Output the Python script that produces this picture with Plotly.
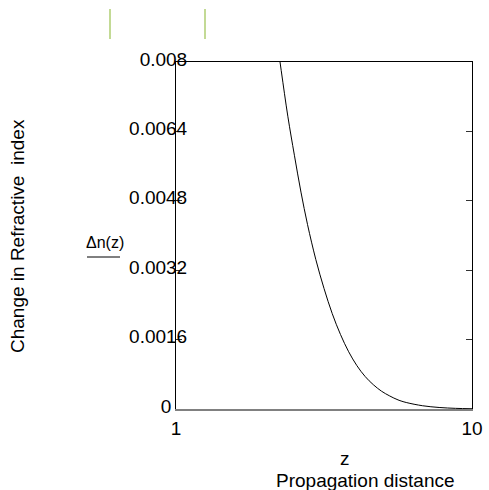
import plotly.graph_objects as go

# Propagation distance z and change in refractive index Δn(z)
z_vals = [4.0, 4.2, 4.4, 4.6, 4.8, 5.0, 5.25, 5.5, 5.75, 6.0, 6.25, 6.5,
          6.75, 7.0, 7.25, 7.5, 7.75, 8.0, 8.5, 9.0, 9.5, 10.0]
dn_vals = [0.0089, 0.0078, 0.00675, 0.00585, 0.0050, 0.00425, 0.00345,
           0.00278, 0.0022, 0.00172, 0.00132, 0.0010, 0.00075, 0.00056,
           0.00041, 0.00030, 0.00021, 0.00015, 0.000075, 0.000035,
           0.000015, 0.000006]

y_tick_vals = [0, 0.0016, 0.0032, 0.0048, 0.0064, 0.008]
y_tick_text = ["0\u00a0\u00a0\u00a0", "0.0016", "0.0032", "0.0048", "0.0064", "0.008"]
x_tick_vals = [1, 10]
x_tick_text = ["1", "10"]

FONT = "Arial, Liberation Sans, sans-serif"
FS = 19

# plot-area geometry in pixels
W, H = 489, 490
L, R, T, B = 176, 472, 62, 409


def px(xp):
    return (xp - L) / (R - L)


def py(yp):
    return (B - yp) / (B - T)


fig = go.Figure()
fig.add_trace(go.Scatter(
    x=z_vals, y=dn_vals, mode="lines",
    line=dict(color="black", width=1, shape="spline"),
    showlegend=False, hoverinfo="skip",
))

fig.update_layout(
    width=W, height=H,
    margin=dict(l=L, r=W - R, t=T, b=H - B, autoexpand=False),
    paper_bgcolor="white", plot_bgcolor="white",
    font=dict(family=FONT, size=FS, color="black"),
    xaxis=dict(
        range=[1, 10], tickmode="array", tickvals=x_tick_vals, ticktext=x_tick_text,
        showgrid=False, zeroline=False, showline=True, linecolor="#808080",
        linewidth=2, mirror=False, ticks="", tickfont=dict(size=FS),
        ticklabelstandoff=1,
    ),
    xaxis2=dict(
        range=[1, 10], overlaying="x", side="top", showticklabels=False,
        showgrid=False, zeroline=False, showline=True, linecolor="black",
        linewidth=1, ticks="", matches="x",
    ),
    yaxis=dict(
        range=[0, 0.008], tickmode="array", tickvals=y_tick_vals, ticktext=y_tick_text,
        showgrid=False, zeroline=False, showline=True, linecolor="black",
        linewidth=1, mirror="ticks", ticks="inside", ticklen=6, tickcolor="#333333",
        tickfont=dict(size=FS), ticklabelstandoff=-16, ticklabelshift=-3,
    ),
    annotations=[
        dict(text="Change in Refractive \u00a0index", x=px(17), y=py(236), xref="paper", yref="paper",
             xanchor="center", yanchor="middle", textangle=-90, showarrow=False,
             font=dict(size=FS)),
        dict(text="Δn(z)", x=px(105), y=py(242), xref="paper", yref="paper",
             xanchor="center", yanchor="middle", showarrow=False, font=dict(size=16)),
        dict(text="z", x=px(345), y=py(458), xref="paper", yref="paper",
             xanchor="center", yanchor="middle", showarrow=False, font=dict(size=FS)),
        dict(text="Propagation distance", x=px(365), y=py(480), xref="paper", yref="paper",
             xanchor="center", yanchor="middle", showarrow=False, font=dict(size=FS)),
    ],
    shapes=[
        dict(type="line", xref="paper", yref="paper", x0=px(87), x1=px(120), y0=py(257), y1=py(257),
             line=dict(color="black", width=1)),
        dict(type="line", xref="paper", yref="paper", x0=px(110), x1=px(110), y0=py(9), y1=py(39),
             line=dict(color="#c3da95", width=2)),
        dict(type="line", xref="paper", yref="paper", x0=px(205), x1=px(205), y0=py(9), y1=py(39),
             line=dict(color="#c3da95", width=2)),
    ],
)
fig.add_trace(go.Scatter(x=[None], y=[None], xaxis="x2", showlegend=False))

fig.write_html("out.html")
